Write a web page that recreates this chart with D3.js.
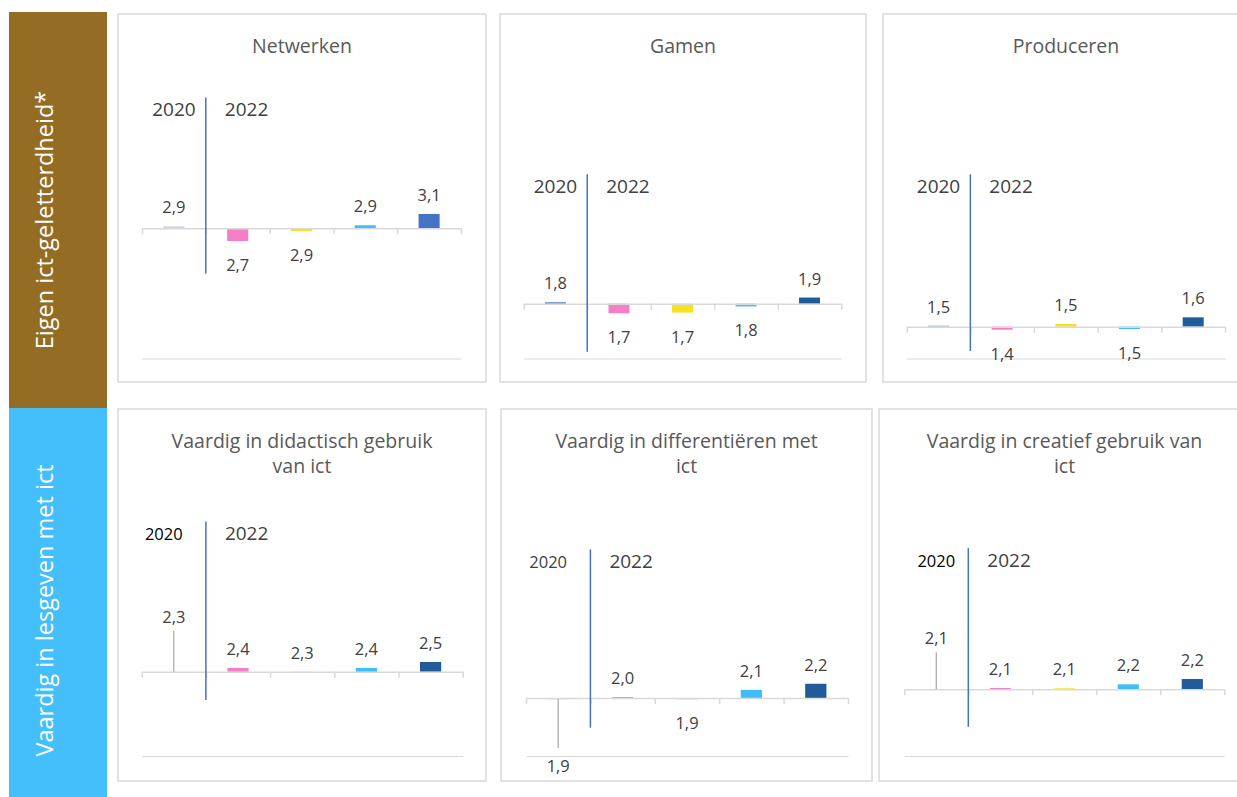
<!DOCTYPE html>
<html>
<head>
<meta charset="utf-8">
<script src="https://cdnjs.cloudflare.com/ajax/libs/d3/7.8.5/d3.min.js"></script>
<style>
  body { margin: 0; background: #fff; }
  text { font-family: "Open Sans", sans-serif; }
</style>
</head>
<body>
<svg id="chart" width="1237" height="797"></svg>
<script>
// groups on the x axis (not shown as tick labels in the original)
const groups = ["2020", "2022 a", "2022 b", "2022 c", "2022 d"];

const titles = [
  ["Netwerken"],
  ["Gamen"],
  ["Produceren"],
  ["Vaardig in didactisch gebruik", "van ict"],
  ["Vaardig in differentiëren met", "ict"],
  ["Vaardig in creatief gebruik van", "ict"]
];

const sectionLabels = ["Eigen ict-geletterdheid*", "Vaardig in lesgeven met ict"];
const yearLabels = ["2020", "2022"];

// mean scores per panel
const netwerken      = [2.93, 2.715, 2.86, 2.945, 3.11];
const gamen          = [1.82, 1.66, 1.67, 1.76, 1.89];
const produceren     = [1.5, 1.441, 1.524, 1.451, 1.621];
const didactisch     = [2.3, 2.36, 2.305, 2.36, 2.452];
const differentieren = [1.935, 1.965, 1.93, 2.07, 2.16];
const creatief       = [2.08, 2.1, 2.095, 2.157, 2.239];

// value where the horizontal axis crosses, and y axis min / max
const crossings = [2.9, 1.8, 1.485, 2.3, 1.95, 2.08];
const yMins = [1, 1, 1.02, 1, 1.1, 1.05];
const yMaxs = [5, 5, 5.02, 5, 4.9, 5.05];

// the 2020 | 2022 divider line, top and bottom in axis values
const dividerTops    = [4.81, 3.69, 3.709, 4.62, 4.13, 4.26];
const dividerBottoms = [2.24, 1.10, 1.13, 1.865, 1.515, 1.50];

const panelValues = [netwerken, gamen, produceren, didactisch, differentieren, creatief];

const barColors = ["#4472c4", "#f47fc7", "#f5e11f", "#3fbefb", "#1f5c99"];
const firstColors = ["#c9d5ee", "#4472c4", "#8faadc", "#4472c4", "#4472c4", "#4472c4"];
const lastColors = ["#4472c4", "#1f5c99", "#1f5c99", "#1f5c99", "#1f5c99", "#1f5c99"];

// 2020 label moved away with a leader line in some panels
const labelNudges = [0, 0, 0, -36, 43, -32];
const year2020Style = [
  { size: 19, color: "#404040", dx: 0 },
  { size: 19, color: "#404040", dx: 0 },
  { size: 19, color: "#404040", dx: 0 },
  { size: 16.5, color: "#000", dx: -10 },
  { size: 16.5, color: "#404040", dx: -10 },
  { size: 16.5, color: "#000", dx: 0 }
];

const frames = [
  { x: 118, y: 14, w: 368, h: 368, left: 142, right: 461, top: 84.5, bottom: 358.5 },
  { x: 500, y: 14, w: 366, h: 368, left: 523.7, right: 841.3, top: 84.5, bottom: 358.5 },
  { x: 883, y: 14, w: 366, h: 368, left: 906.7, right: 1225, top: 84.5, bottom: 358.5 },
  { x: 118, y: 409, w: 368, h: 372, left: 141.7, right: 462.7, top: 497, bottom: 756 },
  { x: 501, y: 409, w: 371, h: 372, left: 526, right: 848, top: 497, bottom: 756 },
  { x: 879, y: 409, w: 371, h: 372, left: 904.3, right: 1224.3, top: 497, bottom: 756 }
];

const nl = d3.formatLocale({ decimal: ",", thousands: ".", grouping: [3], currency: ["€", ""] });
const fmt = nl.format(".1f");

const svg = d3.select("#chart");

// section bars on the left
const sections = [
  { y: 12, h: 396, color: "#946c23" },
  { y: 408, h: 389, color: "#45befc" }
];
sections.forEach((s, i) => {
  svg.append("rect")
    .attr("x", 9).attr("y", s.y)
    .attr("width", 98).attr("height", s.h)
    .attr("fill", s.color);
  const cy = s.y + s.h / 2 + (i === 0 ? 10 : 8);
  svg.append("text")
    .attr("transform", "translate(53," + cy + ") rotate(-90)")
    .attr("text-anchor", "middle")
    .attr("fill", "#fff")
    .style("font-size", "23.5px")
    .text(sectionLabels[i]);
});

frames.forEach((f, p) => {
  const vals = panelValues[p];
  const g = svg.append("g");

  g.append("rect")
    .attr("x", f.x).attr("y", f.y)
    .attr("width", f.w).attr("height", f.h)
    .attr("fill", "#fff")
    .attr("stroke", "#d9d9d9")
    .attr("stroke-width", 1.5);

  // title
  const t = g.append("text")
    .attr("x", f.x + f.w / 2)
    .attr("y", f.y + 38.5)
    .attr("text-anchor", "middle")
    .attr("fill", "#595959")
    .style("font-size", "19.5px");
  titles[p].forEach((line, k) => {
    t.append("tspan")
      .attr("x", f.x + f.w / 2)
      .attr("dy", k === 0 ? 0 : 25.6)
      .text(line);
  });

  const x = d3.scaleBand().domain(groups).range([f.left, f.right]).padding(0);
  const y = d3.scaleLinear().domain([yMins[p], yMaxs[p]]).range([f.bottom, f.top]);
  const edges = d3.scaleLinear().domain([0, groups.length]).range([f.left, f.right]);

  // bottom line at axis minimum
  g.append("g")
    .attr("transform", "translate(0," + y(yMins[p]) + ")")
    .call(d3.axisBottom(edges).tickValues([]).tickSizeOuter(0))
    .call(a => a.select(".domain").attr("stroke", "#d9d9d9").attr("stroke-width", 1.2));

  const bw = x.bandwidth() * 0.33;
  const y0 = y(crossings[p]);
  const colorOf = i => i === 0 ? firstColors[p] : (i === 4 ? lastColors[p] : barColors[i]);

  g.selectAll(".bar")
    .data(vals)
    .enter().append("rect")
    .attr("class", "bar")
    .attr("x", (d, i) => x(groups[i]) + (x.bandwidth() - bw) / 2)
    .attr("y", d => Math.min(y(d), y0))
    .attr("width", bw)
    .attr("height", d => Math.abs(y(d) - y0))
    .attr("fill", (d, i) => colorOf(i));

  // horizontal axis crossing at the chosen value
  g.append("g")
    .attr("transform", "translate(0," + y0 + ")")
    .call(d3.axisBottom(edges).ticks(groups.length).tickFormat("").tickSizeInner(6).tickSizeOuter(0))
    .call(a => {
      a.select(".domain").attr("stroke", "#d9d9d9").attr("stroke-width", 1.5);
      a.selectAll(".tick line").attr("stroke", "#d9d9d9").attr("stroke-width", 1.5);
    });

  // data labels
  vals.forEach((d, i) => {
    const up = d >= crossings[p];
    const cx = x(groups[i]) + x.bandwidth() / 2;
    const base = up ? y(d) - 13 : y(d) + 30;
    const nudge = i === 0 ? labelNudges[p] : 0;
    g.append("text")
      .attr("x", cx)
      .attr("y", base + nudge)
      .attr("text-anchor", "middle")
      .attr("fill", "#404040")
      .style("font-size", "16.5px")
      .text(fmt(d));
    if (nudge !== 0) {
      const from = y(d);
      const to = up ? base + nudge + 8 : base + nudge - 24;
      g.append("line")
        .attr("x1", cx).attr("x2", cx)
        .attr("y1", from).attr("y2", to)
        .attr("stroke", "#a6a6a6").attr("stroke-width", 1.2);
    }
  });

  // divider between 2020 and 2022
  const dx = x(groups[1]);
  g.append("line")
    .attr("x1", dx).attr("x2", dx)
    .attr("y1", y(dividerTops[p])).attr("y2", y(dividerBottoms[p]))
    .attr("stroke", "#4472c4").attr("stroke-width", 1.5);

  const yb = y(dividerTops[p]) + 18.5;
  const st = year2020Style[p];
  g.append("text")
    .attr("x", x(groups[0]) + x.bandwidth() / 2 + st.dx)
    .attr("y", yb)
    .attr("text-anchor", "middle")
    .attr("fill", st.color)
    .style("font-size", st.size + "px")
    .text(yearLabels[0]);
  g.append("text")
    .attr("x", dx + 19)
    .attr("y", yb)
    .attr("fill", "#404040")
    .style("font-size", "19px")
    .text(yearLabels[1]);
});
</script>
</body>
</html>
